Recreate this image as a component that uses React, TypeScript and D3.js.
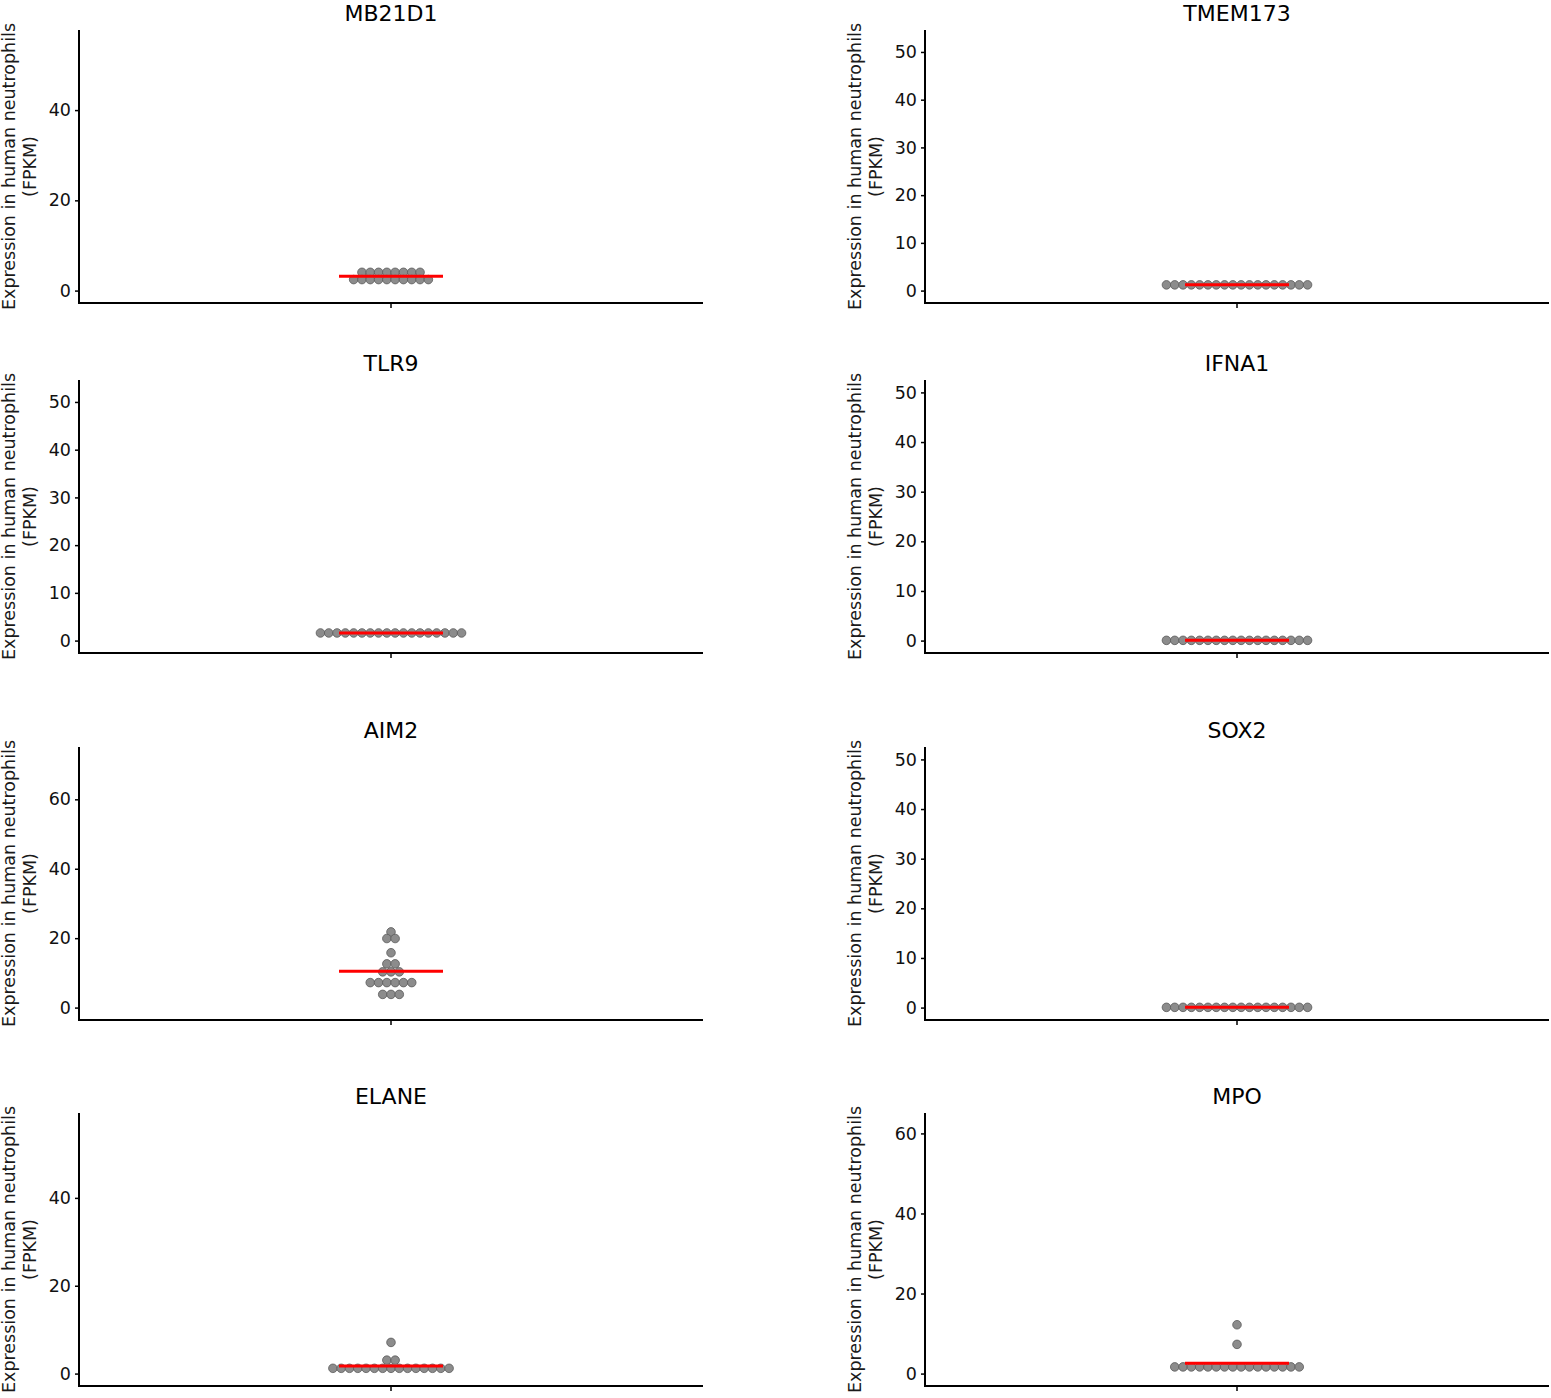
import { useEffect, useRef } from "react";
import * as d3 from "d3";

// gene panels, in reading order (left column, right column, row by row)
const genes = ["MB21D1", "TMEM173", "TLR9", "IFNA1", "AIM2", "SOX2", "ELANE", "MPO"];

// upper data limit of each panel's y scale (before ggplot-like 5% expansion)
const yLimits = [55, 52, 52, 50, 71.5, 50, 56.5, 62];

const yTicks = [
  [0, 20, 40],
  [0, 10, 20, 30, 40, 50],
  [0, 10, 20, 30, 40, 50],
  [0, 10, 20, 30, 40, 50],
  [0, 20, 40, 60],
  [0, 10, 20, 30, 40, 50],
  [0, 20, 40],
  [0, 20, 40, 60],
];

// FPKM per donor (binned dot centres)
const mb21d1 = [4.05, 4.05, 4.05, 4.05, 4.05, 4.05, 4.05, 4.05, 2.44, 2.44, 2.44, 2.44, 2.44, 2.44, 2.44, 2.44, 2.44, 2.44];
const tmem173 = [1.2, 1.2, 1.2, 1.2, 1.2, 1.2, 1.2, 1.2, 1.2, 1.2, 1.2, 1.2, 1.2, 1.2, 1.2, 1.2, 1.2, 1.2];
const tlr9 = [1.6, 1.6, 1.6, 1.6, 1.6, 1.6, 1.6, 1.6, 1.6, 1.6, 1.6, 1.6, 1.6, 1.6, 1.6, 1.6, 1.6, 1.6];
const ifna1 = [0.05, 0.05, 0.05, 0.05, 0.05, 0.05, 0.05, 0.05, 0.05, 0.05, 0.05, 0.05, 0.05, 0.05, 0.05, 0.05, 0.05, 0.05];
const aim2 = [21.8, 19.9, 19.9, 15.8, 12.6, 12.6, 10.3, 10.3, 10.3, 7.2, 7.2, 7.2, 7.2, 7.2, 7.2, 3.8, 3.8, 3.8];
const sox2 = [0.05, 0.05, 0.05, 0.05, 0.05, 0.05, 0.05, 0.05, 0.05, 0.05, 0.05, 0.05, 0.05, 0.05, 0.05, 0.05, 0.05, 0.05];
const elane = [7.1, 3.06, 3.06, 1.2, 1.2, 1.2, 1.2, 1.2, 1.2, 1.2, 1.2, 1.2, 1.2, 1.2, 1.2, 1.2, 1.2, 1.2];
const mpo = [12.2, 7.3, 1.67, 1.67, 1.67, 1.67, 1.67, 1.67, 1.67, 1.67, 1.67, 1.67, 1.67, 1.67, 1.67, 1.67, 1.67, 1.67];

const values = [mb21d1, tmem173, tlr9, ifna1, aim2, sox2, elane, mpo];

const W = 1551;
const H = 1398;
const colLeft = [79, 925];
const plotW = 624;
const rowTop = [30, 380, 747, 1113];
const plotH = 273;
const font = "'DejaVu Sans', sans-serif";

export default function App() {
  const ref = useRef<SVGSVGElement>(null);

  useEffect(() => {
    if (!ref.current) return;
    const svg = d3.select(ref.current);
    svg.selectAll("*").remove();

    genes.forEach((gene, i) => {
      const left = colLeft[i % 2];
      const top = rowTop[Math.floor(i / 2)];
      const g = svg.append("g").attr("transform", `translate(${left},${top})`);

      const lim = yLimits[i];
      const pad = lim * 0.05;
      const y = d3.scaleLinear().domain([-pad, lim + pad]).range([plotH, 0]);
      const x = d3.scaleBand().domain([gene]).range([0, plotW]);
      const cx = (x(gene) ?? 0) + x.bandwidth() / 2;

      // title
      g.append("text")
        .attr("x", plotW / 2)
        .attr("y", -9)
        .attr("text-anchor", "middle")
        .attr("font-family", font)
        .attr("font-size", "22px")
        .attr("fill", "#000")
        .text(gene);

      // y axis
      g.append("g")
        .call(d3.axisLeft(y).tickValues(yTicks[i]).tickSize(4).tickPadding(4))
        .call((a) => a.select(".domain").remove())
        .call((a) => a.selectAll(".tick line").attr("stroke", "#000").attr("stroke-width", 1.5))
        .call((a) =>
          a.selectAll(".tick text").attr("fill", "#111").attr("font-size", "17.5px").attr("font-family", font)
        );
      g.append("line")
        .attr("x1", 0).attr("x2", 0).attr("y1", 0).attr("y2", plotH + 1)
        .attr("stroke", "#000").attr("stroke-width", 2);

      // x axis
      g.append("g")
        .attr("transform", `translate(0,${plotH})`)
        .call(d3.axisBottom(x).tickSize(5).tickFormat(() => ""))
        .call((a) => a.select(".domain").remove())
        .call((a) => a.selectAll(".tick line").attr("stroke", "#000").attr("stroke-width", 1.5));
      g.append("line")
        .attr("x1", -1).attr("x2", plotW).attr("y1", plotH).attr("y2", plotH)
        .attr("stroke", "#000").attr("stroke-width", 2);

      // y title
      const yt = g.append("text")
        .attr("transform", `translate(-70,${plotH / 2}) rotate(-90)`)
        .attr("text-anchor", "middle")
        .attr("font-family", font)
        .attr("font-size", "17.5px")
        .attr("fill", "#1a1a1a");
      yt.append("tspan").attr("x", 0).attr("dy", "0.35em").text("Expression in human neutrophils");
      yt.append("tspan").attr("x", 0).attr("dy", "1.2em").text("(FPKM)");

      // dots, stacked centre-wise per bin
      const vals = values[i];
      const bins = d3.groups(vals, (v) => v);
      const step = 8.3;
      const dots: Array<{ v: number; off: number }> = [];
      bins.forEach(([v, arr]) => {
        arr.forEach((_, k) => dots.push({ v, off: (k - (arr.length - 1) / 2) * step }));
      });
      g.selectAll(".dot")
        .data(dots)
        .join("circle")
        .attr("class", "dot")
        .attr("cx", (d) => cx + d.off)
        .attr("cy", (d) => y(d.v))
        .attr("r", 4.3)
        .attr("fill", "#8c8c8c")
        .attr("stroke", "#5a5a5a")
        .attr("stroke-width", 0.8);

      // mean bar
      const m = d3.mean(vals) ?? 0;
      g.append("line")
        .attr("x1", cx - 52).attr("x2", cx + 52)
        .attr("y1", y(m)).attr("y2", y(m))
        .attr("stroke", "#ff0000").attr("stroke-width", 3);
    });
  }, []);

  return (
    <svg
      ref={ref}
      width={W}
      height={H}
      style={{ position: "absolute", left: 0, top: 0, background: "#fff" }}
    />
  );
}
